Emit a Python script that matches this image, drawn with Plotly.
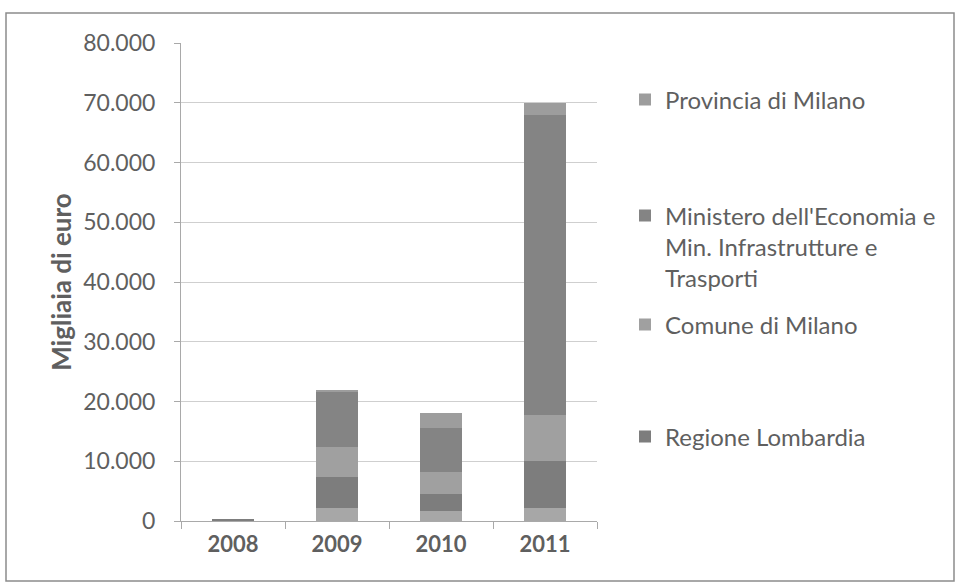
import plotly.graph_objects as go

# Stacked funding per year (thousands of euro)
years = ["2008", "2009", "2010", "2011"]
altro = [150, 2100, 1700, 2100]
regione = [100, 5300, 2900, 8000]
comune = [0, 5000, 3600, 7700]
ministero = [0, 9300, 7300, 50200]
provincia = [0, 300, 2600, 2000]

y_ticks = [0, 10000, 20000, 30000, 40000, 50000, 60000, 70000, 80000]

W, H = 955, 582
L, R, T, B = 181, 358, 43, 61
plot_w = W - L - R
plot_h = H - T - B


def px_x(x):
    return (x - L) / plot_w


def px_y(y):
    return (H - B - y) / plot_h


FONT = "Lato"
TEXT = "#5f5f5f"

series = [
    ("Altro", altro, "#a7a7a7", None, None, None),
    ("Regione Lombardia", regione, "#7d7d7d", "legend4", 437, "middle"),
    ("Comune di Milano", comune, "#a0a0a0", "legend3", 325, "middle"),
    ("Ministero dell'Economia e<br>Min. Infrastrutture e<br>Trasporti", ministero, "#848484", "legend2", 247, "top"),
    ("Provincia di Milano", provincia, "#9d9d9d", "legend", 100, "middle"),
]

fig = go.Figure()
legends = {}
for name, vals, color, leg, ypos, valign in series:
    kw = dict(x=years, y=vals, name=name, marker=dict(color=color, line=dict(width=0)))
    if leg is None:
        kw["showlegend"] = False
    else:
        kw["legend"] = leg
        legends[leg] = dict(
            x=px_x(625), xanchor="left",
            y=px_y(ypos), yanchor="middle",
            bgcolor="rgba(0,0,0,0)",
            font=dict(family=FONT, size=24, color=TEXT),
            valign=valign,
            itemwidth=30,
        )
    fig.add_trace(go.Bar(**kw))

fig.update_layout(
    width=W, height=H,
    barmode="stack",
    bargap=0.6,
    separators=",.",
    paper_bgcolor="white",
    plot_bgcolor="white",
    margin=dict(l=L, r=R, t=T, b=B),
    font=dict(family=FONT, color=TEXT),
    **legends,
)

fig.update_xaxes(
    type="category",
    showline=True, linecolor="#a9a9a9", linewidth=1,
    ticks="outside", tickson="boundaries", ticklen=7, tickcolor="#a9a9a9",
    ticklabelstandoff=4,
    tickfont=dict(family=FONT, size=22, color=TEXT, weight="bold"),
    showgrid=False,
)
fig.update_yaxes(
    range=[0, 80000],
    tickvals=y_ticks,
    tickformat=",d",
    showline=True, linecolor="#a9a9a9", linewidth=1,
    ticks="outside", ticklen=6, tickcolor="#a9a9a9",
    ticklabelstandoff=14,
    tickfont=dict(family=FONT, size=23, color=TEXT),
    showgrid=True, gridcolor="#cfcfcf", gridwidth=1,
    zeroline=False,
    title=dict(text="Migliaia di euro", font=dict(family=FONT, size=26, color=TEXT, weight="bold"), standoff=4),
)

# outer chart frame
fig.add_shape(
    type="rect", xref="paper", yref="paper",
    x0=px_x(6), x1=px_x(954), y0=px_y(581), y1=px_y(13),
    line=dict(color="#8c8c8c", width=1.5), fillcolor="rgba(0,0,0,0)",
    layer="below",
)

fig.write_html("out.html")
